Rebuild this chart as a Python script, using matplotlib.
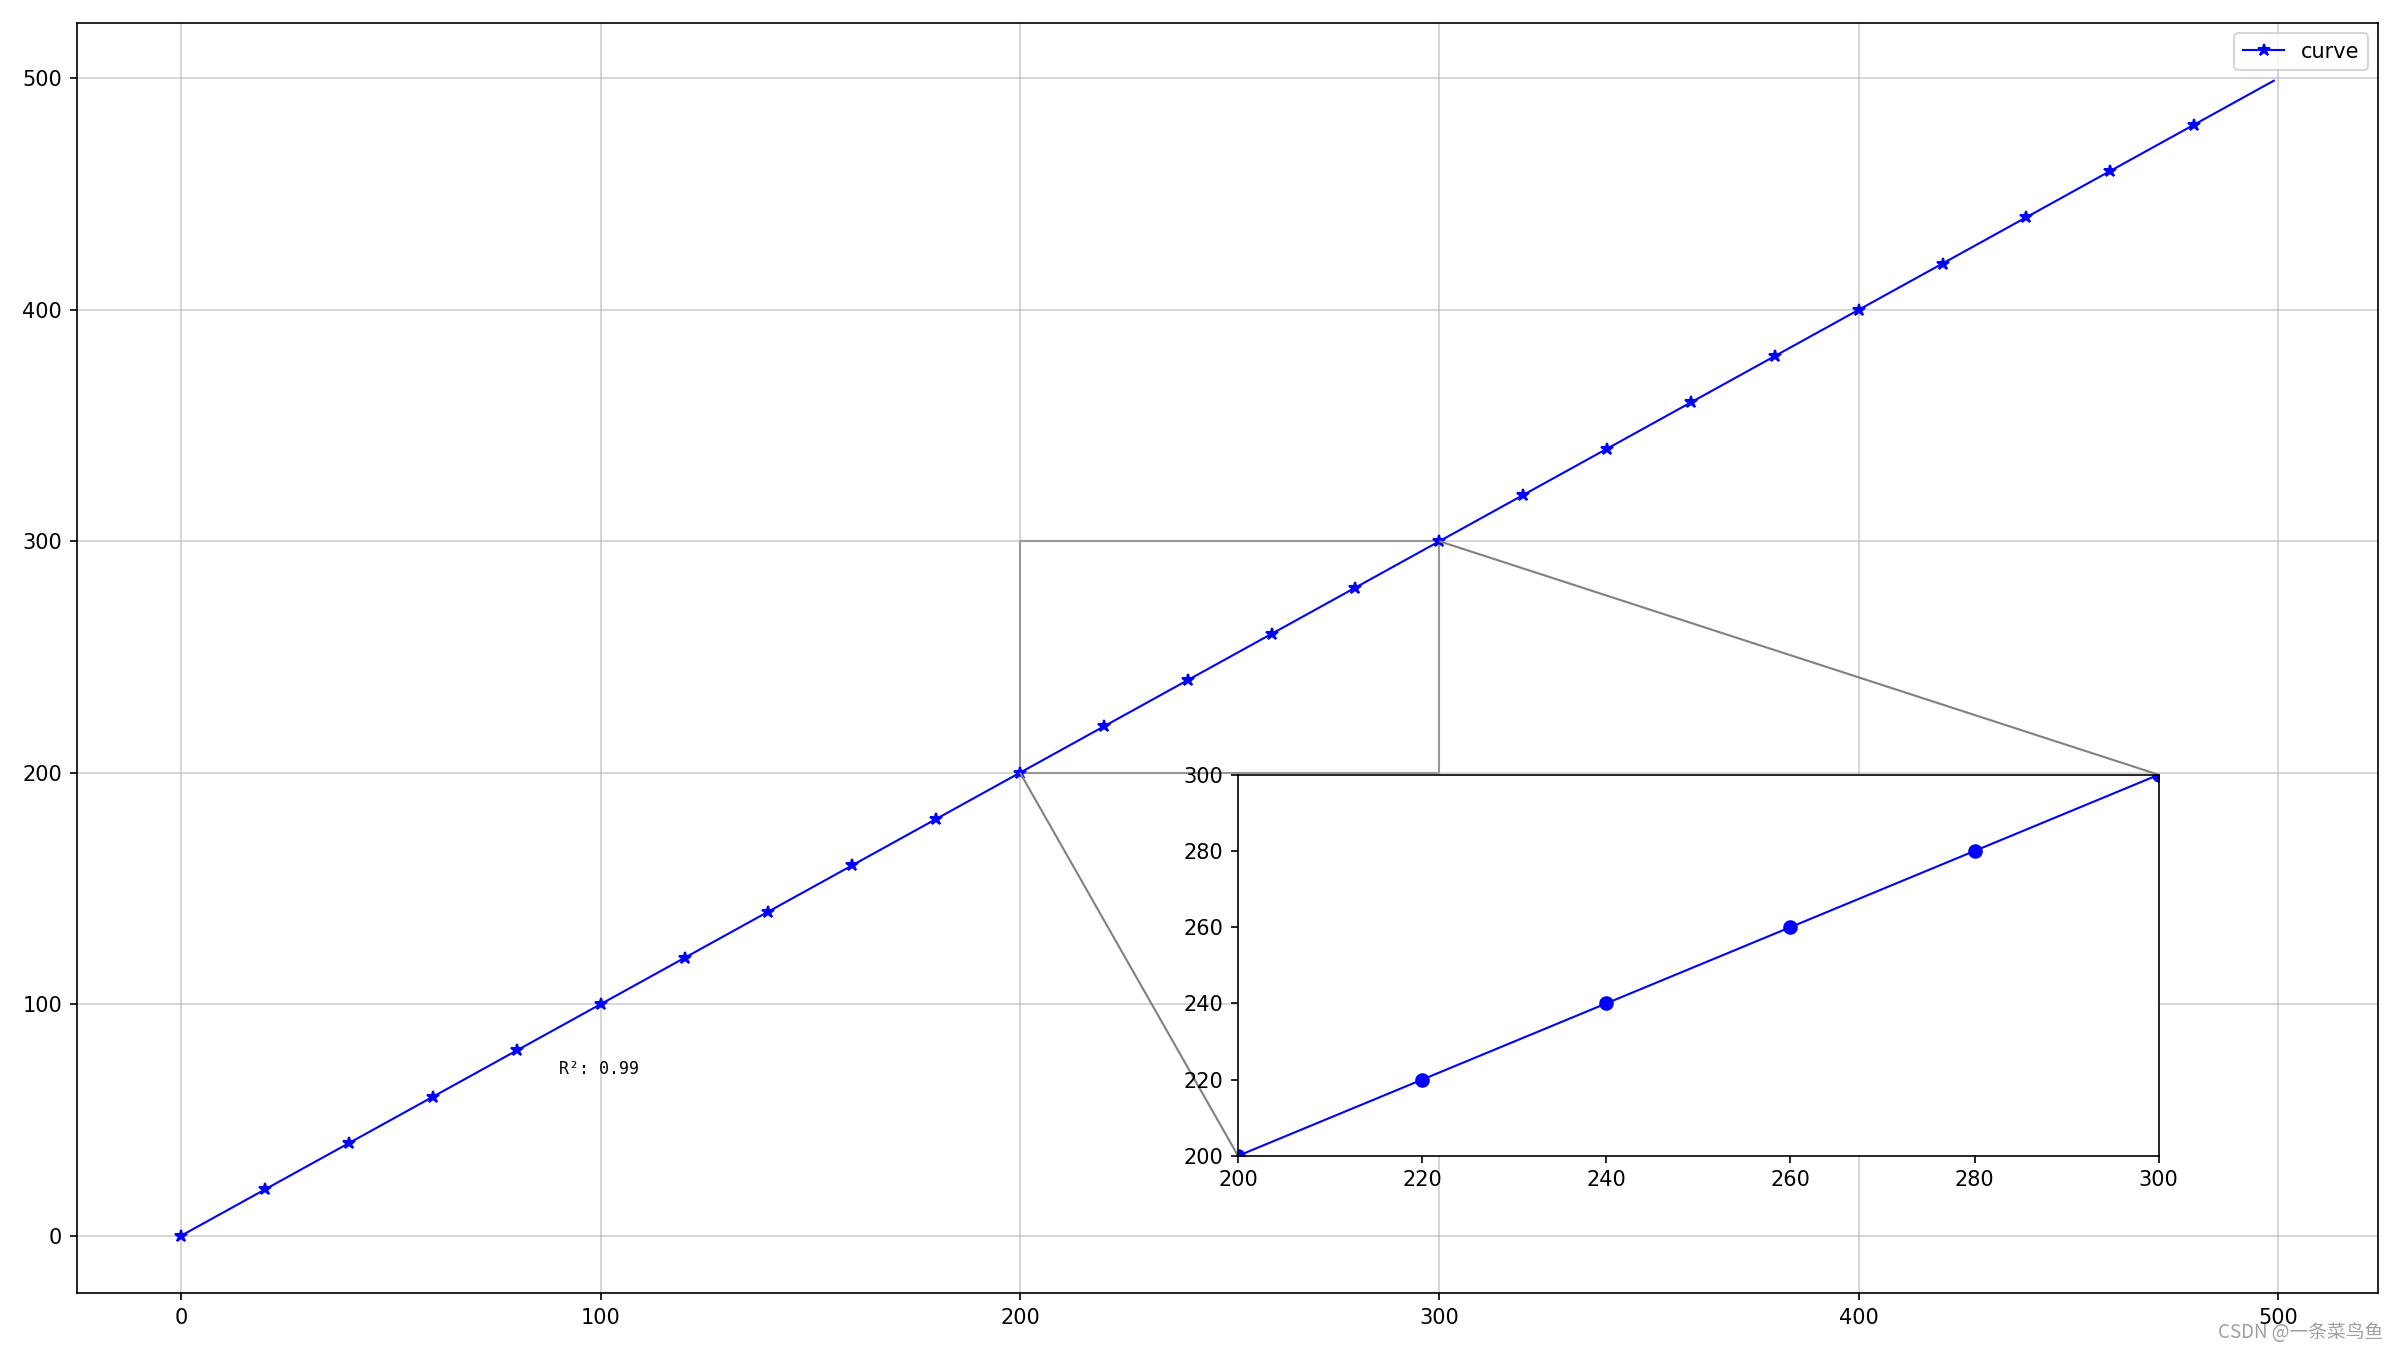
import matplotlib
matplotlib.use("Agg")
import matplotlib.pyplot as plt
from mpl_toolkits.axes_grid1.inset_locator import inset_axes, mark_inset

# data: sampled points of the curve (markers every 20, last point 499)
x_vals = [0, 20, 40, 60, 80, 100, 120, 140, 160, 180, 200, 220, 240, 260, 280,
          300, 320, 340, 360, 380, 400, 420, 440, 460, 480, 499]
y_vals = [0, 20, 40, 60, 80, 100, 120, 140, 160, 180, 200, 220, 240, 260, 280,
          300, 320, 340, 360, 380, 400, 420, 440, 460, 480, 499]
zoom_x = (200, 300)
zoom_y = (200, 300)
r2_label = "R²: 0.99"
r2_pos = (90, 70)
legend_label = "curve"

fig, ax = plt.subplots(figsize=(16, 9), dpi=150)
fig.subplots_adjust(left=0.032, right=0.991, bottom=0.042, top=0.983)

ax.plot(x_vals, y_vals, color="blue", marker="*", markevery=slice(0, len(x_vals) - 1),
        label=legend_label, linewidth=1)
ax.grid(True, color="#b0b0b0", alpha=0.6, linewidth=0.8)
ax.legend(loc="upper right")
ax.text(r2_pos[0], r2_pos[1], r2_label, family="DejaVu Sans Mono", fontsize=8)

axins = inset_axes(ax, width="100%", height="100%", loc="lower left",
                   bbox_to_anchor=(0.5, 0.1, 0.4, 0.3), bbox_transform=ax.transAxes)
axins.plot(x_vals, y_vals, color="blue", marker="o", markevery=slice(0, len(x_vals) - 1),
           linewidth=1)
axins.set_xlim(*zoom_x)
axins.set_ylim(*zoom_y)
mark_inset(ax, axins, loc1=3, loc2=1, fc="none", ec="0.5")

fig.text(0.993, 0.0126, "CSDN @一条菜鸟鱼", ha="right", va="center", fontsize=9,
         color="#a0a0a0", family=["Noto Sans CJK SC", "DejaVu Sans"])

fig.savefig("out.png", dpi=150)
